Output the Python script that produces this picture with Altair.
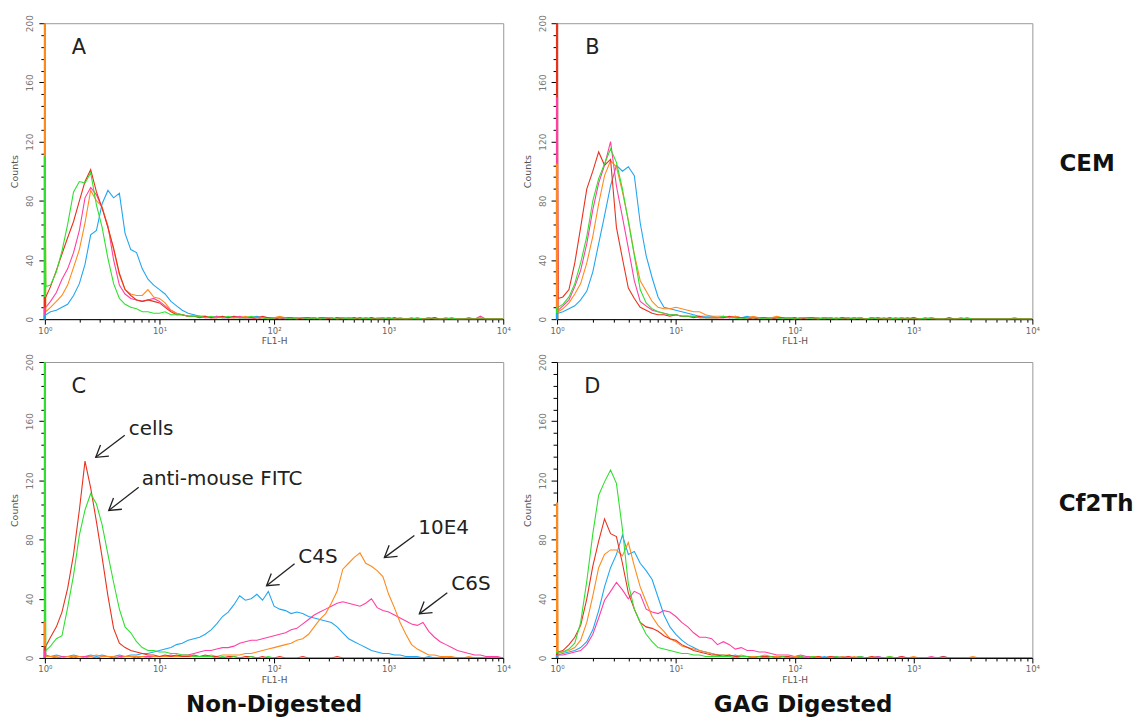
import altair as alt
import pandas as pd

# ---------------- data ----------------
FL1H = [1.0, 1.02,
        1.12, 1.26, 1.41, 1.58, 1.78, 2.0, 2.24, 2.51, 2.82, 3.16, 3.55, 3.98, 4.47, 5.01, 5.62, 6.31, 7.08, 7.94, 8.91, 10.0,
        11.2, 12.6, 14.1, 15.8, 17.8, 20.0, 22.4, 25.1, 28.2, 31.6, 35.5, 39.8, 44.7, 50.1, 56.2, 63.1, 70.8, 79.4, 89.1, 100,
        112, 126, 141, 158, 178, 200, 224, 251, 282, 316, 355, 398, 447, 501, 562, 631, 708, 794, 891, 1000,
        1122, 1259, 1413, 1585, 1778, 1995, 2239, 2512, 2818, 3162, 3548, 3981, 4467, 5012, 5623, 6310, 7079, 7943, 8913, 10000]

X_TICKS = [1, 2, 3, 4, 5, 6, 7, 8, 9, 10, 20, 30, 40, 50, 60, 70, 80, 90, 100, 200, 300, 400, 500, 600, 700, 800, 900,
           1000, 2000, 3000, 4000, 5000, 6000, 7000, 8000, 9000, 10000]
Y_TICKS = [0, 8, 16, 24, 32, 40, 48, 56, 64, 72, 80, 88, 96, 104, 112, 120, 128, 136, 144, 152, 160, 168, 176, 184, 192, 200]

SERIES = ["C4S", "C6S", "10E4", "cells", "anti-mouse FITC"]   # drawing order
COLORS = {"cells": "#e8321e", "anti-mouse FITC": "#2fe02f", "C4S": "#22a6f2",
          "10E4": "#ff8a1c", "C6S": "#ff3fa3"}

# Each list: [first-channel (off-scale) count, then counts along FL1H]
# Panel A (CEM, non-digested)
A = {
    "anti-mouse FITC": [110, 22,
        23, 32, 46, 64, 86, 93, 92, 99, 77, 62,
        41, 24, 14, 10, 8, 7, 5, 5, 4, 4,
        5, 3, 3, 3, 2, 2,
        2, 1, 2, 1, 1, 2, 1, 1, 1, 2,
        1, 1, 0, 1, 1, 1, 0, 1, 1, 0,
        1, 0, 1, 1, 0, 0, 1, 0, 0, 1,
        0, 0, 0, 1, 0, 0, 0, 0, 1, 0,
        0, 0, 0, 0, 1, 0, 0, 0, 0, 0,
        0, 0, 0, 0],
    "cells": [15, 15,
        22, 33, 44, 55, 66, 80, 93, 101, 86, 75,
        62, 48, 31, 20, 16, 13, 12, 13, 12, 11,
        8, 5, 3, 3, 2, 2,
        1, 2, 1, 1, 2, 1, 2, 1, 1, 1,
        1, 2, 1, 0, 1, 1, 1, 0, 1, 1,
        0, 1, 1, 0, 1, 0, 0, 1, 0, 0,
        1, 0, 0, 0, 1, 0, 0, 0, 0, 0,
        0, 1, 0, 0, 0, 0, 0, 0, 0, 0,
        0, 0, 0, 0],
    "C6S": [8, 8,
        12, 18, 27, 34, 45, 60, 82, 89, 84, 75,
        63, 40, 23, 17, 14, 13, 12, 13, 14, 12,
        9, 6, 4, 3, 2, 2,
        2, 1, 1, 2, 1, 1, 1, 2, 1, 1,
        0, 1, 1, 1, 0, 1, 1, 0, 1, 0,
        1, 0, 0, 1, 0, 1, 0, 0, 1, 0,
        0, 0, 1, 0, 0, 0, 0, 0, 0, 0,
        1, 0, 0, 0, 0, 0, 0, 1, 0, 2,
        0, 0, 0, 0],
    "10E4": [200, 5,
        8, 12, 16, 23, 35, 47, 65, 87, 80, 76,
        62, 47, 30, 20, 17, 16, 16, 20, 15, 14,
        11, 6, 4, 3, 2, 2,
        2, 2, 1, 1, 2, 1, 1, 1, 2, 1,
        1, 1, 0, 1, 2, 1, 1, 0, 1, 1,
        0, 1, 1, 1, 0, 1, 1, 1, 0, 1,
        0, 1, 1, 0, 0, 1, 0, 1, 0, 0,
        1, 0, 0, 1, 0, 0, 0, 0, 0, 1,
        0, 0, 0, 0],
    "C4S": [3, 3,
        5, 6, 8, 10, 16, 24, 37, 57, 60, 78,
        87, 82, 85, 58, 47, 45, 34, 27, 23, 20,
        17, 12, 9, 6, 4, 3,
        2, 2, 1, 2, 1, 1, 2, 1, 1, 1,
        2, 1, 1, 1, 1, 0, 1, 1, 0, 1,
        1, 0, 1, 0, 1, 1, 0, 0, 1, 0,
        1, 0, 0, 1, 0, 0, 0, 0, 0, 0,
        0, 1, 0, 0, 0, 0, 0, 0, 0, 0,
        0, 0, 0, 0],
}

# Panel B (CEM, GAG digested)
B = {
    "cells": [200, 14,
        15, 20, 38, 62, 88, 100, 113, 104, 108, 62,
        41, 21, 14, 8, 6, 4, 3, 3, 2, 3,
        2, 2, 1, 2, 1, 1,
        1, 1, 2, 1, 1, 1, 0, 1, 1, 0,
        1, 1, 0, 1, 0, 1, 1, 0, 1, 0,
        0, 1, 0, 1, 0, 0, 1, 0, 0, 1,
        0, 0, 0, 1, 0, 0, 0, 0, 0, 1,
        0, 0, 0, 0, 0, 0, 0, 0, 0, 0,
        0, 0, 0, 0],
    "anti-mouse FITC": [8, 8,
        10, 15, 24, 38, 56, 80, 95, 105, 115, 106,
        88, 66, 43, 20, 11, 7, 5, 4, 3, 3,
        2, 2, 2, 1, 1, 1,
        1, 2, 1, 1, 0, 1, 1, 1, 0, 1,
        1, 0, 1, 0, 1, 1, 0, 0, 1, 0,
        1, 0, 0, 1, 0, 0, 1, 0, 0, 0,
        1, 0, 0, 0, 0, 1, 0, 0, 0, 0,
        0, 0, 1, 0, 0, 0, 0, 0, 0, 0,
        0, 0, 0, 0],
    "C6S": [150, 6,
        9, 13, 22, 33, 51, 74, 92, 104, 120, 90,
        69, 48, 26, 12, 9, 6, 5, 4, 3, 3,
        2, 2, 2, 1, 1, 1,
        1, 1, 1, 2, 1, 0, 1, 1, 1, 0,
        1, 1, 1, 0, 1, 0, 1, 1, 0, 1,
        0, 0, 1, 0, 1, 0, 0, 1, 0, 0,
        0, 1, 0, 0, 0, 0, 1, 0, 0, 0,
        0, 0, 0, 0, 0, 0, 0, 0, 0, 0,
        0, 0, 0, 0],
    "10E4": [105, 5,
        7, 11, 17, 24, 38, 56, 78, 97, 107, 103,
        86, 67, 44, 26, 19, 12, 8, 7, 7, 8,
        7, 6, 5, 5, 3, 2,
        2, 2, 1, 2, 1, 1, 2, 1, 1, 1,
        2, 1, 1, 0, 1, 1, 1, 0, 1, 1,
        0, 1, 1, 0, 1, 0, 1, 0, 1, 0,
        0, 1, 0, 1, 0, 0, 1, 0, 0, 0,
        0, 1, 0, 0, 0, 0, 0, 0, 0, 0,
        1, 0, 0, 0],
    "C4S": [4, 4,
        5, 7, 9, 13, 19, 32, 51, 70, 90, 104,
        100, 103, 97, 65, 43, 28, 15, 8, 7, 6,
        5, 4, 3, 2, 2, 2,
        1, 2, 1, 1, 1, 2, 1, 0, 1, 1,
        1, 0, 1, 1, 0, 1, 1, 0, 0, 1,
        0, 1, 0, 0, 1, 0, 0, 1, 0, 0,
        0, 0, 1, 0, 0, 0, 0, 0, 0, 0,
        0, 0, 0, 0, 0, 0, 0, 0, 0, 0,
        0, 0, 0, 0],
}

# Panel C (Cf2Th, non-digested)
C = {
    "cells": [8, 8,
        14, 21, 31, 47, 70, 100, 133, 115, 92, 68,
        42, 20, 10, 7, 5, 4, 3, 2, 2, 1,
        2, 1, 2, 1, 1, 2,
        1, 2, 1, 1, 0, 1, 1, 0, 1, 1,
        0, 1, 0, 0, 1, 0, 0, 0, 1, 0,
        0, 0, 0, 0, 1, 0, 0, 0, 0, 0,
        0, 0, 0, 0, 0, 0, 0, 0, 0, 0,
        0, 0, 0, 0, 0, 0, 0, 0, 0, 0,
        0, 0, 0, 0],
    "anti-mouse FITC": [200, 5,
        8, 13, 15, 34, 56, 83, 100, 111, 104, 90,
        70, 51, 33, 21, 17, 11, 7, 5, 5, 4,
        4, 3, 3, 2, 2, 1,
        1, 1, 1, 0, 1, 0, 1, 0, 0, 1,
        0, 0, 1, 0, 0, 0, 0, 0, 0, 0,
        0, 0, 0, 0, 0, 0, 0, 0, 0, 0,
        0, 0, 0, 0, 0, 0, 0, 0, 0, 0,
        0, 0, 0, 0, 0, 0, 0, 0, 0, 0,
        0, 0, 0, 0],
    "C4S": [25, 2,
        1, 2, 1, 1, 2, 1, 1, 2, 1, 2,
        1, 1, 2, 1, 2, 2, 3, 3, 4, 5,
        6, 7, 9, 10, 12, 13,
        14, 16, 19, 23, 28, 31, 36, 42, 39, 40,
        43, 39, 45, 35, 33, 32, 30, 31, 30, 28,
        27, 26, 25, 24, 21, 17, 13, 11, 9, 7,
        5, 4, 3, 3, 2, 2, 1, 1, 1, 0,
        1, 0, 0, 1, 0, 0, 0, 0, 0, 0,
        0, 0, 0, 0],
    "C6S": [5, 1,
        1, 0, 1, 1, 0, 1, 1, 1, 0, 1,
        1, 0, 1, 1, 1, 0, 1, 1, 1, 1,
        1, 2, 1, 2, 2, 3,
        4, 5, 5, 6, 7, 7, 8, 10, 11, 12,
        12, 13, 14, 15, 16, 17, 19, 20, 23, 26,
        29, 31, 33, 35, 37, 38, 37, 36, 35, 37,
        40, 34, 32, 31, 29, 27, 25, 23, 22, 24,
        18, 14, 11, 9, 7, 5, 4, 3, 2, 2,
        1, 1, 1, 0],
    "10E4": [25, 1,
        1, 1, 0, 1, 1, 1, 0, 1, 2, 1,
        1, 1, 0, 1, 1, 1, 1, 0, 1, 1,
        1, 1, 1, 1, 1, 1,
        1, 1, 2, 1, 2, 2, 2, 2, 3, 3,
        4, 5, 6, 7, 8, 9, 10, 12, 13, 16,
        21, 26, 30, 37, 45, 60, 64, 68, 71, 64,
        62, 59, 55, 43, 34, 24, 16, 9, 6, 4,
        2, 2, 1, 1, 1, 0, 0, 1, 0, 0,
        0, 0, 0, 0],
}

# Panel D (Cf2Th, GAG digested)
D = {
    "anti-mouse FITC": [4, 4,
        4, 6, 10, 24, 52, 84, 110, 119, 127, 118,
        87, 50, 33, 24, 16, 11, 7, 6, 5, 4,
        3, 3, 2, 2, 1, 1,
        1, 1, 1, 0, 1, 1, 0, 1, 0, 1,
        0, 1, 0, 0, 1, 0, 1, 0, 0, 0,
        1, 0, 0, 0, 1, 0, 0, 0, 0, 1,
        0, 0, 0, 0, 0, 0, 0, 0, 0, 0,
        0, 0, 0, 0, 0, 0, 0, 0, 0, 0,
        0, 0, 0, 0],
    "cells": [3, 4,
        5, 9, 14, 22, 40, 62, 79, 94, 84, 82,
        64, 44, 33, 24, 21, 20, 18, 15, 13, 12,
        9, 7, 5, 4, 3, 2,
        2, 1, 2, 1, 1, 1, 0, 1, 1, 1,
        0, 1, 1, 0, 1, 0, 0, 1, 0, 1,
        0, 0, 1, 0, 0, 0, 1, 0, 0, 0,
        0, 1, 0, 0, 0, 0, 0, 0, 1, 0,
        0, 0, 0, 0, 0, 0, 0, 0, 0, 0,
        0, 0, 0, 0],
    "10E4": [105, 3,
        4, 5, 7, 12, 24, 42, 61, 70, 73, 73,
        69, 78, 62, 48, 38, 28, 22, 18, 13, 11,
        8, 7, 6, 5, 4, 3,
        2, 2, 2, 1, 2, 1, 1, 1, 2, 1,
        1, 1, 0, 1, 1, 0, 1, 1, 0, 1,
        0, 1, 0, 1, 0, 0, 1, 0, 0, 1,
        0, 0, 0, 1, 0, 0, 0, 0, 0, 0,
        0, 0, 0, 1, 0, 0, 0, 0, 0, 0,
        0, 0, 0, 0],
    "C4S": [2, 2,
        3, 4, 5, 7, 11, 19, 32, 48, 61, 70,
        83, 70, 72, 64, 59, 53, 41, 29, 21, 16,
        12, 9, 7, 5, 4, 3,
        2, 2, 1, 2, 1, 1, 1, 1, 0, 1,
        1, 1, 0, 1, 0, 1, 1, 0, 1, 0,
        0, 1, 0, 0, 1, 0, 0, 1, 0, 0,
        0, 0, 0, 0, 0, 0, 0, 0, 1, 0,
        0, 0, 0, 0, 0, 0, 0, 0, 0, 0,
        0, 0, 0, 0],
    "C6S": [2, 2,
        2, 3, 4, 5, 9, 16, 27, 39, 45, 51,
        46, 40, 45, 43, 33, 31, 30, 32, 31, 28,
        24, 21, 17, 14, 14, 13,
        9, 11, 9, 6, 7, 5, 5, 4, 4, 3,
        2, 2, 2, 1, 2, 1, 1, 1, 0, 1,
        1, 0, 1, 0, 1, 0, 0, 1, 0, 0,
        0, 1, 0, 0, 0, 0, 1, 0, 0, 0,
        0, 0, 0, 0, 0, 0, 0, 0, 0, 0,
        0, 0, 0, 0],
}

bad = [(p, s, len(v)) for p, d in zip("ABCD", (A, B, C, D)) for s, v in d.items() if len(v) != len(FL1H)]
assert not bad, bad

LETTER_X = 1.98
LETTER_Y = 183

# annotations in panel C (data coordinates)
ANN_TEXT = ["cells", "anti-mouse FITC", "C4S", "10E4", "C6S"]
ANN_X = [5.4, 7.0, 163, 1816, 3523]
ANN_Y = [155, 121, 68.5, 87.5, 50]
ARROW_X0 = [4.98, 6.59, 151, 1676, 3250]
ARROW_Y0 = [150.5, 115.3, 63.7, 82.7, 44]
ARROW_X1 = [2.78, 3.61, 86, 918, 1854]
ARROW_Y1 = [135.6, 99.7, 48.8, 67.8, 29.8]

# ---------------- styling ----------------
FONT = "DejaVu Sans"
W_L, W_R, H = 460, 477, 297

xscale = alt.Scale(type="log", domain=[1, 10000], nice=False)
yscale = alt.Scale(domain=[0, 200], nice=False, zero=True)

xaxis = alt.Axis(
    values=X_TICKS,
    labelExpr="datum.value == 1 ? '10⁰' : datum.value == 10 ? '10¹' : datum.value == 100 ? '10²' : "
              "datum.value == 1000 ? '10³' : datum.value == 10000 ? '10⁴' : ''",
    title="FL1-H", titleFontSize=9, titleColor="#555", titleFontWeight="normal", titlePadding=2,
    labelFontSize=8.5, labelColor="#666", labelFlush=False, labelOverlap=False, labelPadding=2,
    tickSize={"condition": {"test": "indexof([1,10,100,1000,10000], datum.value) >= 0", "value": 5}, "value": 3},
    tickColor="black", domainColor="black", grid=False, zindex=0)

yaxis = alt.Axis(
    values=Y_TICKS,
    labelExpr="datum.value % 40 == 0 ? datum.label : ''",
    title="Counts", titleFontSize=9.5, titleColor="#555", titleFontWeight="normal", titlePadding=6,
    labelAngle=270, labelAlign="center", labelBaseline="bottom", labelFontSize=9, labelColor="#777",
    labelPadding=4, labelOverlap=False,
    tickSize={"condition": {"test": "datum.value % 40 == 0", "value": 6}, "value": 4},
    tickColor="black", domainColor="black", grid=False, zindex=0)


def X(field):
    return alt.X(field, type="quantitative", scale=xscale, axis=xaxis)


def Y(field):
    return alt.Y(field, type="quantitative", scale=yscale, axis=yaxis)


def panel(curves, width, letter, extra=()):
    layers = []
    for s in SERIES:
        df = pd.DataFrame({"fl1h": FL1H, "counts": curves[s]})
        layers.append(
            alt.Chart(df).mark_line(color=COLORS[s], strokeWidth=1.1, clip=True)
            .encode(x=X("fl1h"), y=Y("counts")))
    # off-scale first channel: drawn as a thick vertical stroke on the left axis, tallest first
    firsts = sorted(((curves[s][0], s) for s in SERIES), reverse=True)
    for val, s in firsts:
        sdf = pd.DataFrame({"fl1h": [FL1H[0]], "lo": [0], "hi": [val]})
        layers.append(
            alt.Chart(sdf).mark_rule(color=COLORS[s], strokeWidth=2.2)
            .encode(x=X("fl1h"), y=Y("lo"), y2="hi:Q"))
    ldf = pd.DataFrame({"fl1h": [LETTER_X], "counts": [LETTER_Y], "t": [letter]})
    layers.append(
        alt.Chart(ldf).mark_text(font=FONT, fontSize=21, color="#222", align="center", baseline="middle")
        .encode(x=X("fl1h"), y=Y("counts"), text="t:N"))
    layers.extend(extra)
    return alt.layer(*layers).properties(width=width, height=H)


def label(text, px, py, size=23):
    return (alt.Chart(pd.DataFrame({"t": [text]}))
            .mark_text(font=FONT, fontSize=size, fontWeight="bold", color="#111",
                       align="center", baseline="middle")
            .encode(x=alt.value(px), y=alt.value(py), text="t:N"))


ann = pd.DataFrame({"t": ANN_TEXT, "ax": ANN_X, "ay": ANN_Y,
                    "x0": ARROW_X0, "y0": ARROW_Y0, "x1": ARROW_X1, "y1": ARROW_Y1})

ARROW_HEAD = "M-0.85,-0.53L0,0L-0.85,0.53"

c_extra = [
    alt.Chart(ann).mark_rule(color="#222", strokeWidth=1.3)
    .encode(x=X("x0"), y=Y("y0"), x2="x1:Q", y2="y1:Q"),
    alt.Chart(ann).mark_point(shape=ARROW_HEAD, angle=143, size=700, filled=False,
                              stroke="#222", strokeWidth=1.3, opacity=1)
    .encode(x=X("x1"), y=Y("y1")),
    alt.Chart(ann).mark_text(font=FONT, fontSize=20, color="#222", align="left", baseline="middle")
    .encode(x=X("ax"), y=Y("ay"), text="t:N"),
    label("Non-Digested", 230, 344),
]

pA = panel(A, W_L, "A")
pB = panel(B, W_R, "B", [label("CEM", 532, 141)])
pC = panel(C, W_L, "C", c_extra)
pD = panel(D, W_R, "D", [label("Cf2Th", 541, 143), label("GAG Digested", 247, 344)])

left = alt.vconcat(pA, pC, spacing=6)
right = alt.vconcat(pB, pD, spacing=6)

chart = (alt.hconcat(left, right, spacing=10)
         .properties(padding={"left": 1, "top": 4, "right": 0, "bottom": 0}, background="white")
         .configure(font=FONT)
         .configure_view(stroke="#999", strokeWidth=1))

chart.save("out.html", embed_options={"renderer": "svg", "actions": False})
